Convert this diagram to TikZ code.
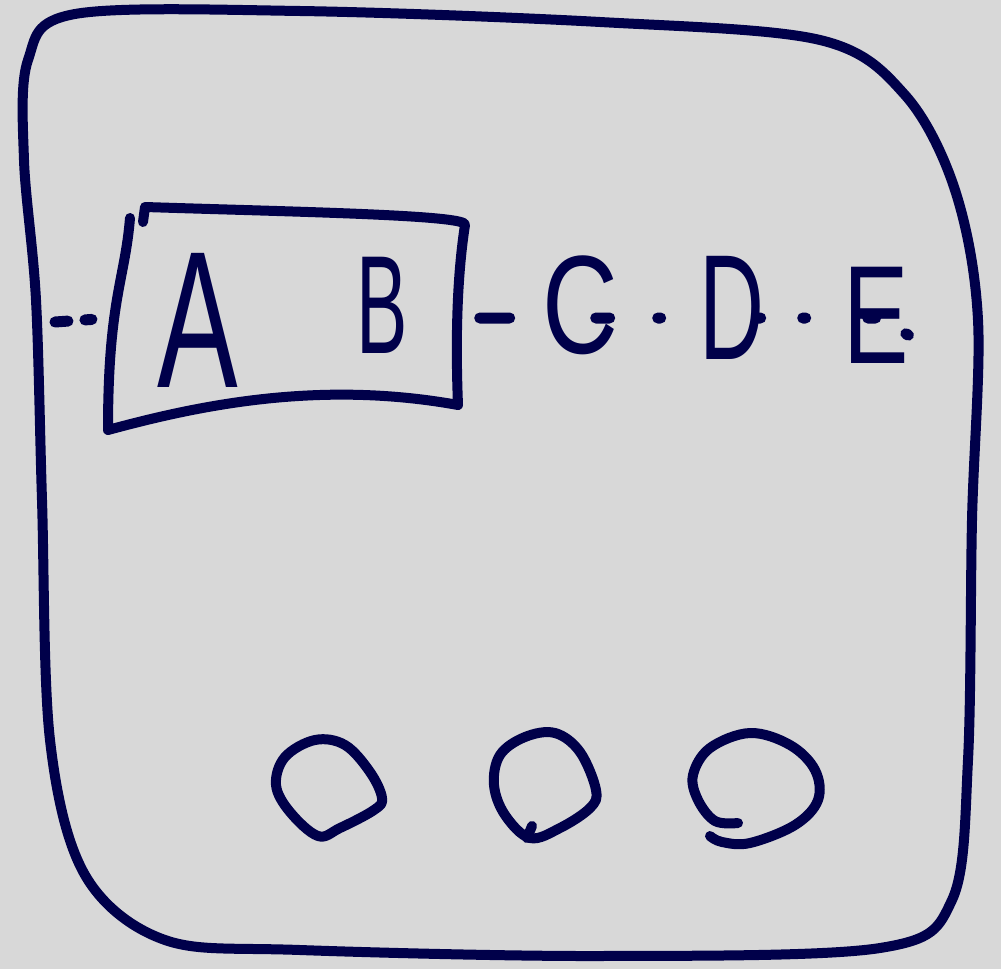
\documentclass[tikz,border=0pt]{standalone}
\usepackage{fontspec}
\usepackage{graphicx}
\setmainfont{Liberation Sans}
\usetikzlibrary{shapes.geometric}
\definecolor{bg}{HTML}{D8D8D8}
\definecolor{ink}{HTML}{00004A}
\tikzset{
  pen/.style={draw=ink, line width=10pt, line cap=round, line join=round},
  letter/.style={text=ink, inner sep=0pt, font=\fontsize{#1}{#1}\selectfont},
  dotline/.style={draw=ink, line width=11pt, line cap=round},
  bubble/.style={minimum width=#1, inner sep=0pt}
}
\begin{document}
\begin{tikzpicture}[x=1pt,y=-1pt]
\fill[bg] (0,0) rectangle (1001,969);
\useasboundingbox (0,0) rectangle (1001,969);
% outer frame
\draw[pen] plot[smooth cycle, tension=0.55] coordinates {
 (75,14) (300,11) (600,22) (820,40) (905,95) (955,190) (978,320)
 (972,520) (968,760) (952,900) (880,948) (600,956) (300,950) (165,940)
 (85,875) (50,740) (42,500) (36,300) (24,160) (28,60)};
% box around A B
\node (ab) at (285,318) [minimum width=345pt, minimum height=200pt, inner sep=0pt] {};
\draw[pen] (130,218) .. controls (125,280) and (108,300) .. (108,430)
  .. controls (200,405) and (320,380) .. (458,405)
  .. controls (455,330) and (458,270) .. (465,225)
  .. controls (470,215) and (300,212) .. (145,207) -- (143,222);
% letters
\node[letter=195] (A) at (198,320) {\scalebox{0.62}[1]{A}};
\node[letter=140] (B) at (382,305) {\scalebox{0.55}[1]{B}};
\node[letter=140] (C) at (580,305) {\scalebox{0.75}[1]{C}};
\node[letter=150] (D) at (732,308) {\scalebox{0.6}[1]{D}};
\node[letter=140] (E) at (876,315) {\scalebox{0.7}[1]{E}};
% dotted line
\coordinate (fl) at (55,322);
\coordinate (fr) at (912,337);
\draw[dotline, dash pattern=on 13pt off 17pt on 7pt off 40pt] (fl) -- (ab.west);
\draw[dotline, dash pattern=on 30pt off 86pt on 14pt off 48pt on 3pt off 97pt on 3pt off 42pt on 3pt off 62pt on 8pt off 34pt on 3pt off 200pt]
  ([xshift=22pt]ab.east) -- (E |- ab.east) -- (fr);
% bubbles
\node[bubble=104pt] (o1) at (327,787) {};
\node[bubble=100pt] (o2) at (545,785) {};
\node[bubble=124pt] (o3) at (755,787) {};
\draw[pen] plot[smooth cycle, tension=0.6] coordinates {
 (318,836) (290,812) (276,785) (285,757) (315,740) (345,745) (370,772) (382,798) (374,810) (340,828)};
\draw[pen] plot[smooth cycle, tension=0.6] coordinates {
 (530,838) (505,815) (494,785) (500,755) (525,737) (555,733) (580,752) (596,790) (590,808) (560,828)};
\draw[pen] (532,826) -- (527,838);
\draw[pen] plot[smooth, tension=0.6] coordinates {
 (738,823) (715,821) (698,800) (693,775) (710,748) (750,733) (790,745) (815,770) (818,800) (795,825) (750,843) (722,842) (710,836)};
\end{tikzpicture}
\end{document}
